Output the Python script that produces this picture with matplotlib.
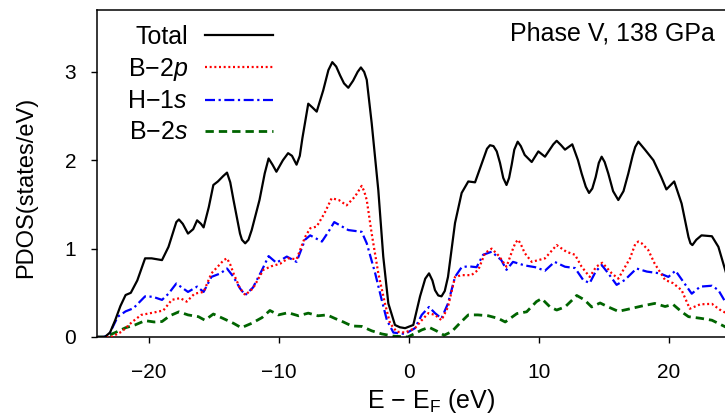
import matplotlib
matplotlib.use('Agg')
import matplotlib.pyplot as plt

plt.rcParams['font.family'] = ['Liberation Sans', 'DejaVu Sans']
plt.rcParams['mathtext.fontset'] = 'custom'
plt.rcParams['mathtext.rm'] = 'Liberation Sans'
plt.rcParams['mathtext.it'] = 'Liberation Sans:italic'

# ---------------- data ----------------
e_total = [-24.0, -23.4, -23.0, -22.6, -22.2, -21.8, -21.4, -20.9, -20.3, -19.8, -19.0,
           -18.5, -17.9, -17.7, -17.4, -17.0, -16.6, -16.3, -16.0, -15.8, -15.4, -15.05,
           -14.7, -14.3, -14.0, -13.75, -13.5, -13.0, -12.85, -12.6, -12.35, -12.1, -11.5,
           -11.1, -10.8, -10.5, -10.2, -9.7, -9.3, -9.0, -8.65, -8.4, -8.2, -7.75, -7.45,
           -7.1, -6.6, -6.2, -5.9, -5.6, -5.3, -5.0, -4.67, -4.3, -3.95, -3.7, -3.45, -3.25,
           -2.87, -2.36, -1.98, -1.59, -1.08, -0.7, -0.3, 0.33, 0.85, 1.25, 1.54, 1.8, 2.0,
           2.25, 2.5, 2.75, 3.0, 3.54, 4.05, 4.56, 5.08, 5.59, 6.0, 6.23, 6.5, 6.75, 7.0,
           7.25, 7.5, 7.7, 7.9, 8.1, 8.36, 8.6, 8.9, 9.44, 9.95, 10.46, 11.1, 11.36, 11.7,
           12.0, 12.56, 13.0, 13.28, 13.6, 13.85, 14.1, 14.36, 14.6, 14.82, 15.05, 15.33,
           15.7, 16.1, 16.5, 16.87, 17.2, 17.4, 17.64, 18.15, 18.8, 19.4, 19.8, 20.4, 20.97,
           21.5, 21.65, 21.8, 22.1, 22.5, 23.3, 23.8, 24.4]
dos_total = [0.0, 0.0, 0.05, 0.19, 0.35, 0.475, 0.50, 0.64, 0.89, 0.89, 0.87,
             1.02, 1.30, 1.33, 1.28, 1.17, 1.22, 1.32, 1.28, 1.24, 1.47, 1.72,
             1.76, 1.82, 1.86, 1.75, 1.55, 1.17, 1.10, 1.06, 1.10, 1.21, 1.55,
             1.85, 2.02, 1.95, 1.87, 2.00, 2.08, 2.05, 1.95, 2.05, 2.25, 2.64, 2.60,
             2.55, 2.79, 3.02, 3.11, 3.06, 2.96, 2.87, 2.82, 2.90, 3.00, 3.05, 3.00, 2.91,
             2.42, 1.66, 0.91, 0.38, 0.136, 0.11, 0.10, 0.136, 0.46, 0.66, 0.72, 0.64, 0.53,
             0.47, 0.46, 0.52, 0.68, 1.29, 1.63, 1.76, 1.75, 1.96, 2.13, 2.17, 2.16, 2.10, 1.97,
             1.80, 1.72, 1.80, 1.95, 2.12, 2.21, 2.16, 2.06, 1.98, 2.10, 2.04, 2.18, 2.22, 2.17,
             2.12, 2.18, 2.0, 1.85, 1.70, 1.63, 1.68, 1.81, 1.97, 2.04, 1.98, 1.85,
             1.65, 1.55, 1.65, 1.85, 2.05, 2.15, 2.21, 2.12, 2.0, 1.81, 1.67, 1.76, 1.51,
             1.13, 1.06, 1.04, 1.10, 1.15, 1.14, 1.02, 0.72]

e_b2p = [-24.0, -22.9, -22.1, -21.3, -20.6, -19.7, -18.9, -18.25, -17.6, -17.1, -16.5,
         -15.8, -15.2, -14.5, -14.25, -14.0, -13.75, -13.5, -13.0, -12.6, -12.0, -11.2,
         -10.6, -9.9, -9.3, -8.65, -8.0, -7.6, -7.1, -6.5, -5.95, -5.4, -4.8, -4.15, -3.85,
         -3.64, -3.45, -3.25, -2.87, -2.36, -1.85, -1.46, -0.95, -0.3, 0.46, 0.98, 1.49,
         2.0, 2.5, 3.0, 3.54, 4.05, 4.8, 5.33, 5.85, 6.36, 6.9, 7.5, 8.0, 8.2, 8.4, 8.6,
         8.9, 9.44, 10.46, 11.36, 12.1, 12.77, 13.28, 13.9, 14.4, 14.87, 15.6, 16.1, 17.0,
         17.4, 17.64, 17.9, 18.4, 18.9, 19.7, 20.3, 20.97, 21.6, 22.4, 23.3, 23.9, 24.4]
dos_b2p = [0.0, 0.0, 0.06, 0.17, 0.25, 0.275, 0.30, 0.42, 0.44, 0.40, 0.49,
           0.51, 0.72, 0.83, 0.87, 0.89, 0.82, 0.72, 0.55, 0.475, 0.55, 0.76,
           0.80, 0.83, 0.89, 0.88, 1.13, 1.23, 1.25, 1.40, 1.57, 1.55, 1.49, 1.59, 1.66,
           1.71, 1.65, 1.55, 1.17, 0.72, 0.38, 0.155, 0.06, 0.05, 0.10, 0.19, 0.27,
           0.25, 0.19, 0.34, 0.68, 0.70, 0.70, 0.76, 0.95, 1.0, 0.92, 0.795, 1.0, 1.07, 1.10, 1.05,
           0.95, 0.85, 0.89, 1.04, 0.965, 0.93, 0.795, 0.68, 0.795, 0.84, 0.72, 0.66, 0.89,
           1.05, 1.08, 1.06, 0.985, 0.83, 0.645, 0.61, 0.53, 0.32, 0.37, 0.375, 0.31, 0.27]

e_h1s = [-24.0, -23.5, -23.1, -22.4, -21.8, -21.2, -20.3, -19.7, -19.0, -18.5, -17.9,
         -17.0, -16.3, -15.8, -15.2, -14.5, -14.0, -13.5, -13.0, -12.6, -12.0, -11.3,
         -10.8, -10.2, -9.4, -8.65, -8.0, -7.6, -6.7, -6.2, -5.75, -4.67, -3.64, -3.25,
         -2.6, -2.1, -1.7, -1.2, -0.3, 0.46, 0.98, 1.54, 2.0, 2.5, 3.0, 3.54, 4.05, 4.56,
         5.2, 5.7, 6.36, 7.1, 7.5, 8.0, 8.9, 9.7, 10.46, 11.2, 12.0, 12.77, 13.4, 13.9,
         14.36, 14.82, 15.33, 15.97, 16.6, 17.5, 18.3, 19.3, 19.95, 20.5, 21.1, 21.75,
         22.4, 23.3, 23.8, 24.4]
dos_h1s = [0.0, 0.0, 0.02, 0.23, 0.29, 0.325, 0.46, 0.455, 0.42, 0.49, 0.605,
           0.51, 0.57, 0.51, 0.68, 0.72, 0.775, 0.68, 0.55, 0.475, 0.56, 0.76,
           0.915, 0.84, 0.91, 0.85, 1.1, 1.15, 1.08, 1.19, 1.30, 1.21, 1.19, 1.06,
           0.72, 0.42, 0.19, 0.05, 0.035, 0.10, 0.25, 0.34, 0.27, 0.21, 0.38, 0.68, 0.79, 0.80,
           0.79, 0.93, 0.965, 0.87, 0.76, 0.85, 0.81, 0.79, 0.75, 0.85, 0.795, 0.78, 0.645, 0.61,
           0.74, 0.815, 0.72, 0.59, 0.645, 0.775, 0.74, 0.72, 0.68, 0.75, 0.625, 0.49,
           0.57, 0.58, 0.53, 0.38]

e_b2s = [-24.0, -23.4, -22.6, -21.8, -21.1, -20.3, -19.6, -19.0, -18.4, -17.7, -17.0,
         -16.2, -15.7, -15.05, -14.3, -13.5, -12.9, -12.1, -11.3, -10.7, -10.05, -9.3,
         -8.5, -7.75, -7.0, -6.3, -5.7, -5.05, -4.4, -3.64, -2.87, -2.1, -1.2, -0.1, 0.46,
         0.98, 1.54, 2.1, 2.7, 3.28, 3.9, 4.56, 5.3, 6.1, 6.87, 7.4, 8.3, 9.05, 9.8, 10.2,
         10.85, 11.36, 12.0, 12.6, 12.9, 13.5, 14.05, 14.7, 15.33, 16.1, 16.87, 17.9, 18.9,
         19.7, 20.3, 20.97, 21.5, 22.5, 23.3, 24.4]
dos_b2s = [0.0, 0.0, 0.05, 0.105, 0.135, 0.185, 0.17, 0.175, 0.24, 0.285, 0.25,
           0.23, 0.19, 0.26, 0.21, 0.155, 0.105, 0.155, 0.22, 0.30, 0.25, 0.275,
           0.24, 0.27, 0.24, 0.25, 0.21, 0.17, 0.125, 0.12, 0.07, 0.035, 0.01, 0.0, 0.04,
           0.08, 0.11, 0.07, 0.02, 0.06, 0.155, 0.25, 0.25, 0.24, 0.21, 0.17, 0.265, 0.285, 0.40, 0.435,
           0.34, 0.305, 0.34, 0.425, 0.47, 0.42, 0.34, 0.385, 0.34, 0.29, 0.315, 0.35, 0.38,
           0.345, 0.37, 0.285, 0.23, 0.21, 0.19, 0.11]

labels = ['Total', 'B\u22122$p$', 'H\u22121$s$', 'B\u22122$s$']
x_ticks = [-20, -10, 0, 10, 20]
y_ticks = [0, 1, 2, 3]

# ---------------- figure ----------------
W, H = 725, 413
fig = plt.figure(figsize=(W / 100, H / 100), dpi=100)
ax = fig.add_axes([97 / W, 76 / H, (765 - 97) / W, 327 / H])
ax.set_xlim(-24, -24 + (765 - 97) / 13.0)
ax.set_ylim(0, 3.70)

ax.plot(e_total, dos_total, color='black', lw=1.6, label=labels[0], zorder=5)
ax.plot(e_b2p, dos_b2p, color='red', lw=1.6, linestyle=(0, (0.9, 1.2)), label=labels[1], zorder=4)
ax.plot(e_h1s, dos_h1s, color='blue', lw=1.6, linestyle=(0, (4.5, 1.6, 1.0, 1.6)), label=labels[2], zorder=3)
ax.plot(e_b2s, dos_b2s, color='#006400', lw=2.0, linestyle=(0, (3.0, 1.8)), label=labels[3], zorder=2)

for side in ['left', 'bottom', 'top']:
    ax.spines[side].set_linewidth(1.1)
ax.spines['right'].set_visible(False)

ax.set_xticks(x_ticks)
ax.set_yticks(y_ticks)
ax.tick_params(axis='x', direction='out', length=4.5, width=1.0, pad=14, labelsize=15, top=False)
ax.tick_params(axis='y', direction='out', length=4.5, width=1.0, pad=10.5, labelsize=15, right=False)

ax.set_xlabel('E \u2212 E$_{\\rm F}$ (eV)', fontsize=18, labelpad=3.5)
ax.set_ylabel('PDOS(states/eV)', fontsize=17)
ax.yaxis.set_label_coords(-0.0898, 0.459)

ax.legend(loc='upper right', bbox_to_anchor=(273 / W, 1 - 25 / H), bbox_transform=fig.transFigure,
          frameon=False, markerfirst=False, handlelength=2.72, handletextpad=0.68,
          labelspacing=0.27, borderpad=0, borderaxespad=0, fontsize=18)

fig.text(715 / W, 1 - 40 / H, 'Phase V, 138 GPa', ha='right', va='baseline', fontsize=18)

fig.savefig('out.png', dpi=100)
